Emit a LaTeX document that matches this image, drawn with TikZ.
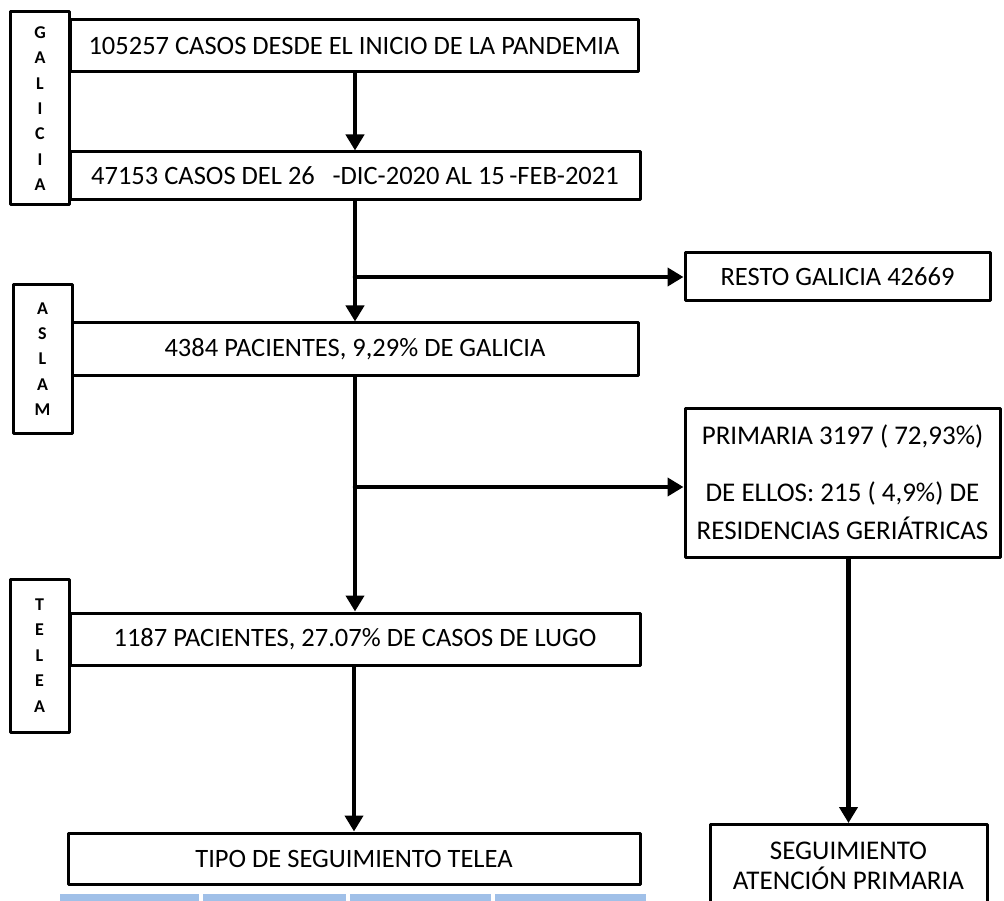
\documentclass[tikz,border=0pt]{standalone}
\usepackage{fontspec}
\setmainfont{Carlito}
\usepackage{xcolor}
\usetikzlibrary{arrows.meta,calc}
\definecolor{hdrblue}{RGB}{160,192,232}

\begin{document}
\begin{tikzpicture}[line cap=round,line join=round,x=1pt,y=-1pt,
    box/.style={draw,line width=3pt,rectangle,inner sep=0pt,font=\fontsize{26.5}{31}\selectfont,align=center},
    sidebox/.style={draw,line width=3pt,rectangle,inner sep=0pt,minimum width=59pt,font=\fontsize{18}{25.4}\selectfont\bfseries,align=center},
    arr/.style={line width=4.5pt,-{Triangle[length=16pt,width=18pt]}}]
                \useasboundingbox (0,0) rectangle (1004,901);
                \node[sidebox,minimum height=193pt] (galicia) at (40,108.5) {G\\A\\L\\I\\C\\I\\A};
                \node[sidebox,minimum height=148pt] (aslam) at (42.5,359) {A\\S\\L\\A\\M};
                \node[sidebox,minimum height=153pt] (telea) at (39.5,655.5) {T\\E\\L\\E\\A};
                \node[box,minimum width=568pt,minimum height=52pt] (casos) at (354,46) {105257 CASOS DESDE EL INICIO DE LA PANDEMIA};
                \node[box,minimum width=570pt,minimum height=48pt] (periodo) at (355,176) {47153 CASOS DEL 26\enspace\,-DIC-2020 AL 15\,-FEB-2021};
                \node[box,minimum width=566pt,minimum height=52pt] (aslamcasos) at (355,349) {4384 PACIENTES, 9,29\% DE GALICIA};
                \node[box,minimum width=570pt,minimum height=52pt] (teleacasos) at (355,639) {1187 PACIENTES, 27.07\% DE CASOS DE LUGO};
                \node[box,minimum width=572pt,minimum height=51pt] (tipo) at (354,858.5) {TIPO DE SEGUIMIENTO TELEA};
                \node[box,minimum width=305pt,minimum height=48pt] (resto) at (837.5,277) {RESTO GALICIA 42669};
                \node[box,minimum width=315pt,minimum height=149pt,font=\fontsize{27}{38}\selectfont] (primaria) at (842.5,482.5) {PRIMARIA 3197 ( 72,93\%)\\[19pt] DE ELLOS: 215 ( 4,9\%) DE\\ RESIDENCIAS GERI\'ATRICAS};
                \node[box,minimum width=277pt,minimum height=82pt,font=\fontsize{27}{30}\selectfont,anchor=north] (segap) at (848.5,823) {SEGUIMIENTO\\ ATENCI\'ON PRIMARIA};
                \coordinate (j1) at (355,277);
                \coordinate (j2) at (355,487);
                \draw[arr] (casos.south -| periodo.north) -- (periodo.north);
                \draw[arr] (periodo.south) -- (aslamcasos.north);
                \draw[arr] (j1) -- (resto.west);
                \draw[arr] (aslamcasos.south) -- (teleacasos.north);
                \draw[arr] (j2) -- (j2 -| primaria.west);
                \draw[arr] (teleacasos.south -| tipo.north) -- (tipo.north);
                \draw[arr] (segap.north |- primaria.south) -- (segap.north);
                \fill[hdrblue] (60,894) rectangle (199,906);
                \fill[hdrblue] (203,894) rectangle (346,906);
                \fill[hdrblue] (350,894) rectangle (491,906);
                \fill[hdrblue] (495,894) rectangle (646,906);
            \end{tikzpicture}
\end{document}
